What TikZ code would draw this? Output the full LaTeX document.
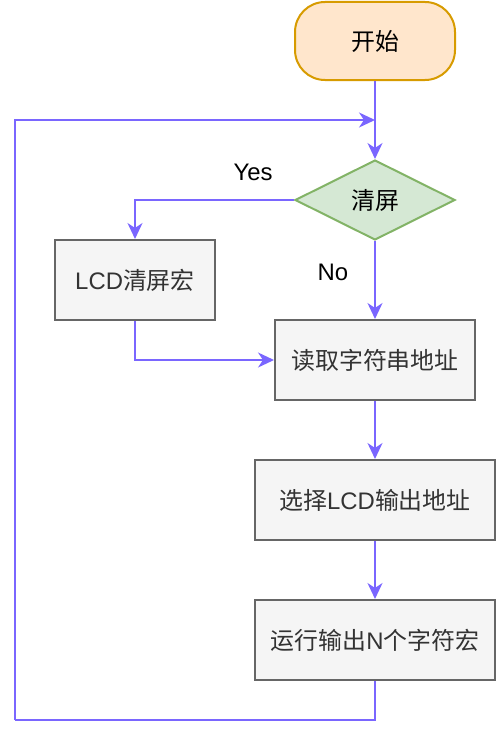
\documentclass[tikz,border=0pt]{standalone}
\usepackage{fontspec}
\setmainfont{Liberation Sans}
\newfontfamily\cjk{Noto Sans CJK SC}
\usetikzlibrary{shapes.geometric,arrows.meta}

\begin{document}
\begin{tikzpicture}[x=1bp,y=-1bp]
    % Define colors
    \definecolor{startfill}{RGB}{255, 230, 204}
    \definecolor{startline}{RGB}{215, 155, 0}
    \definecolor{decfill}{RGB}{213, 232, 212}
    \definecolor{decline}{RGB}{130, 179, 102}
    \definecolor{boxfill}{RGB}{245, 245, 245}
    \definecolor{boxline}{RGB}{102, 102, 102}
    \definecolor{boxtext}{RGB}{51, 51, 51}
    \definecolor{flowline}{RGB}{122, 102, 255}

    % Styles
    \tikzset{
        txt/.style={font=\fontsize{24}{28}\selectfont},
        startbox/.style={txt, draw=startline, fill=startfill, line width=2bp,
            rounded corners=30bp, minimum width=160bp, minimum height=78bp},
        decision/.style={txt, diamond, draw=decline, fill=decfill, line width=2bp,
            inner sep=0pt, minimum width=160bp, minimum height=80bp},
        procbox/.style={txt, draw=boxline, fill=boxfill, text=boxtext,
            line width=2bp, minimum height=80bp},
        flow/.style={draw=flowline, line width=2bp,
            -{Stealth[length=16bp, width=15bp, inset=5bp]}},
        flowplain/.style={draw=flowline, line width=2bp}
    }

    \useasboundingbox (0,0) rectangle (498,738);

    % Nodes
    \node[startbox] (start) at (375,41) {\cjk 开始};
    \node[decision] (clear) at (375,200) {\cjk 清屏};
    \node[procbox, minimum width=160bp] (lcdclear) at (135,280) {LCD{\cjk 清屏宏}};
    \node[procbox, minimum width=200bp] (readaddr) at (375,360) {\cjk 读取字符串地址};
    \node[procbox, minimum width=240bp] (seladdr) at (375,500) {{\cjk 选择}LCD{\cjk 输出地址}};
    \node[procbox, minimum width=240bp] (runmacro) at (375,640) {{\cjk 运行输出}N{\cjk 个字符宏}};

    % Labels
    \node[txt] (yes) at (253,172) {Yes};
    \node[txt] (no) at (333,272) {No};

    % Loop points
    \coordinate (join) at (375,120);
    \coordinate (corner) at (15,720);

    % Connectors
    \draw[flow] (start) -- (clear);
    \draw[flow] (clear.west) -| (lcdclear.north);
    \draw[flow] (clear) -- (readaddr);
    \draw[flow] (lcdclear.south) |- (readaddr.west);
    \draw[flow] (readaddr) -- (seladdr);
    \draw[flow] (seladdr) -- (runmacro);
    \draw[flowplain] (runmacro.south) |- (corner);
    \draw[flow] (corner) |- (join);

\end{tikzpicture}
\end{document}
